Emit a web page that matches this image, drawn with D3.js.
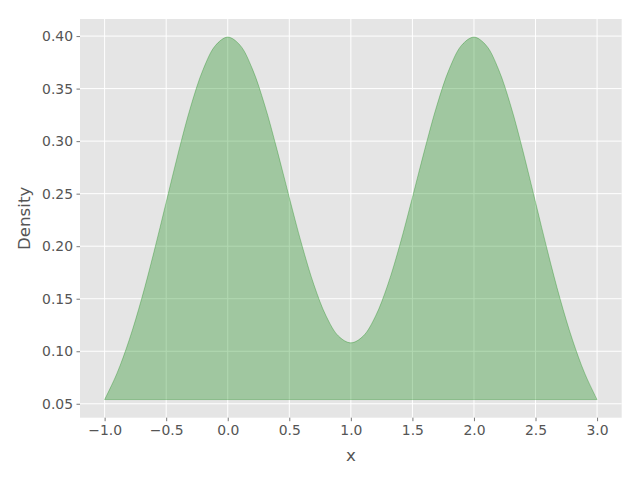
<!DOCTYPE html>
<html>
<head>
<meta charset="utf-8">
<script src="https://cdn.jsdelivr.net/npm/d3@7"></script>
<style>
body { margin: 0; background: #fff; }
#chart { width: 640px; height: 480px; }
text { font-family: "DejaVu Sans", sans-serif; }
</style>
</head>
<body>
<div id="chart"></div>
<script>
// density values, x from -1 to 3 in steps of 0.1
const xs = [-1.0, -0.9, -0.8, -0.7, -0.6, -0.5, -0.4, -0.3, -0.2, -0.1,
    0.0, 0.1, 0.2, 0.3, 0.4, 0.5, 0.6, 0.7, 0.8, 0.9,
    1.0, 1.1, 1.2, 1.3, 1.4, 1.5, 1.6, 1.7, 1.8, 1.9,
    2.0, 2.1, 2.2, 2.3, 2.4, 2.5, 2.6, 2.7, 2.8, 2.9, 3.0]
const density = [0.0540, 0.0789, 0.1109, 0.1497, 0.1942, 0.2419, 0.2897, 0.3332, 0.3682, 0.3910,
    0.3990, 0.3913, 0.3688, 0.3344, 0.2920, 0.2464, 0.2021, 0.1633, 0.1333, 0.1144,
    0.1080, 0.1144, 0.1333, 0.1633, 0.2021, 0.2464, 0.2920, 0.3344, 0.3688, 0.3913,
    0.3990, 0.3910, 0.3682, 0.3332, 0.2897, 0.2419, 0.1942, 0.1497, 0.1109, 0.0789, 0.0540]
const xTicks = [-1.0, -0.5, 0.0, 0.5, 1.0, 1.5, 2.0, 2.5, 3.0]
const yTicks = [0.05, 0.10, 0.15, 0.20, 0.25, 0.30, 0.35, 0.40]

const width = 640, height = 480
const mLeft = 80, mRight = 621.7, mTop = 19, mBottom = 417.7

const pts = xs.map((x, i) => ({x: x, y: density[i]}))

const xmin = d3.min(xs), xmax = d3.max(xs)
const ymin = d3.min(density), ymax = d3.max(density)
const xpad = (xmax - xmin) * 0.05, ypad = (ymax - ymin) * 0.05

const x = d3.scaleLinear().domain([xmin - xpad, xmax + xpad]).range([mLeft, mRight])
const y = d3.scaleLinear().domain([ymin - ypad, ymax + ypad]).range([mBottom, mTop])

let svg = d3.select("#chart")
    .append("svg")
    .attr("width", width)
    .attr("height", height)

svg.append("rect")
    .attr("x", mLeft).attr("y", mTop)
    .attr("width", mRight - mLeft).attr("height", mBottom - mTop)
    .attr("fill", "#e5e5e5")

// grid
const grid = svg.append("g").attr("stroke", "#fff").attr("stroke-width", 1)
grid.selectAll("line.gx")
    .data(xTicks)
    .join("line")
    .attr("class", "gx")
    .attr("x1", d => x(d)).attr("x2", d => x(d))
    .attr("y1", mTop).attr("y2", mBottom)
grid.selectAll("line.gy")
    .data(yTicks)
    .join("line")
    .attr("class", "gy")
    .attr("x1", mLeft).attr("x2", mRight)
    .attr("y1", d => y(d)).attr("y2", d => y(d))

// filled polygon, closed straight back to the first point
const line = d3.line()
    .x(d => x(d.x))
    .y(d => y(d.y))
    .curve(d3.curveCatmullRom)

svg.append("path")
    .datum(pts)
    .attr("d", d => line(d) + "Z")
    .attr("fill", "green")
    .attr("fill-opacity", 0.3)
    .attr("stroke", "green")
    .attr("stroke-opacity", 0.3)
    .attr("stroke-width", 1)

// axes
const xAxis = svg.append("g")
    .attr("transform", `translate(0,${mBottom})`)
    .call(d3.axisBottom(x).tickValues(xTicks).tickSize(3.5).tickPadding(3.5).tickFormat(d3.format(".1f")))
const yAxis = svg.append("g")
    .attr("transform", `translate(${mLeft},0)`)
    .call(d3.axisLeft(y).tickValues(yTicks).tickSize(3.5).tickPadding(3.5).tickFormat(d3.format(".2f")))

for (const ax of [xAxis, yAxis]) {
    ax.select(".domain").remove()
    ax.selectAll(".tick line").attr("stroke", "#555").attr("stroke-width", 0.8)
    ax.selectAll(".tick text")
        .attr("fill", "#555")
        .style("font-size", "13.9px")
        .style("font-family", "DejaVu Sans")
}

svg.append("text")
    .attr("x", (mLeft + mRight) / 2)
    .attr("y", 461)
    .attr("text-anchor", "middle")
    .attr("fill", "#555")
    .style("font-size", "16.7px")
    .text("x")

svg.append("text")
    .attr("transform", `translate(30,${(mTop + mBottom) / 2}) rotate(-90)`)
    .attr("text-anchor", "middle")
    .attr("fill", "#555")
    .style("font-size", "16.7px")
    .text("Density")
</script>
</body>
</html>
